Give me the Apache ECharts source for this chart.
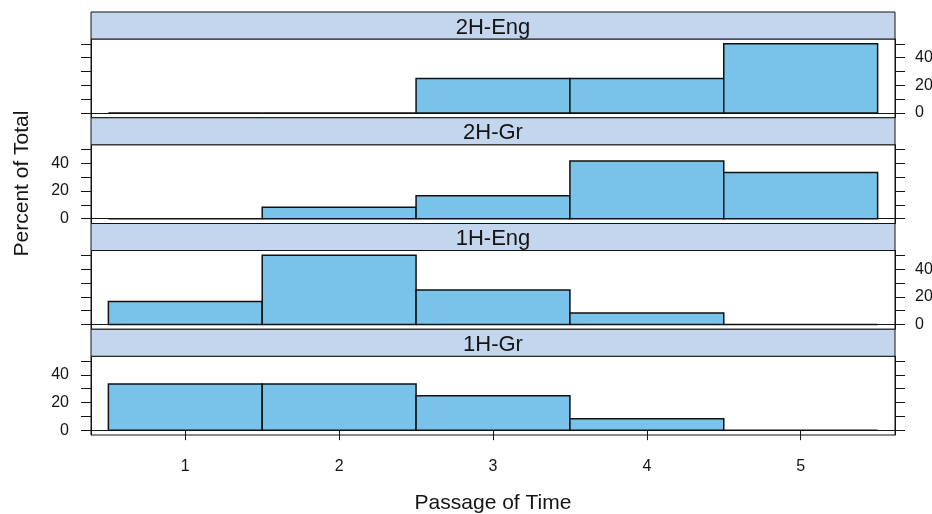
<!DOCTYPE html>
<html>
<head>
<meta charset="utf-8">
<script src="https://cdn.jsdelivr.net/npm/echarts@6/dist/echarts.min.js"></script>
<style>
html,body{margin:0;padding:0;background:#fff;}
#chart{width:932px;height:514px;}
</style>
</head>
<body>
<div id="chart"></div>
<script>
// ---- data ----
const panelNames = ['2H-Eng', '2H-Gr', '1H-Eng', '1H-Gr']; // top to bottom
const binBreaks = [0.5, 1.5, 2.5, 3.5, 4.5, 5.5];
const pct2HEng = [0, 0, 25, 25, 50];
const pct2HGr = [0, 8.33, 16.67, 41.67, 33.33];
const pct1HEng = [16.67, 50, 25, 8.33, 0];
const pct1HGr = [33.33, 33.33, 25, 8.33, 0];
const xTickValues = [1, 2, 3, 4, 5];
const yTickValues = [0, 10, 20, 30, 40, 50];
const yLabelValues = [0, 20, 40];
const xTitle = 'Passage of Time';
const yTitle = 'Percent of Total';

const panelValues = [pct2HEng, pct2HGr, pct1HEng, pct1HGr];

// ---- layout ----
const plotLeft = 91, plotRight = 895;
const topY = 12, bottomY = 435;
const stripH = 27;
const panelH = ((bottomY - topY) - 4 * stripH) / 4;
const FONT = 'Liberation Sans, Arial, sans-serif';
const INK = '#141414';
const BAR_FILL = '#79C3EB';
const STRIP_FILL = '#C3D6EE';

const grids = [], xAxes = [], yAxes = [], series = [], graphics = [];

panelNames.forEach((name, i) => {
  const stripTop = topY + i * (stripH + panelH);
  const gTop = stripTop + stripH;
  const isBottom = i === panelNames.length - 1;
  const labelsRight = (i % 2 === 0);
  grids.push({
    left: plotLeft, width: plotRight - plotLeft,
    top: gTop, height: panelH,
    outerBoundsMode: 'none', containLabel: false,
    show: true, borderColor: INK, borderWidth: 1, backgroundColor: '#fff'
  });
  xAxes.push({
    type: 'value', gridIndex: i, min: 0.387, max: 5.613,
    splitLine: {show: false},
    axisLine: {show: true, lineStyle: {color: INK, width: 1}},
    axisTick: {show: isBottom, length: 10, customValues: xTickValues, lineStyle: {color: INK}},
    axisLabel: {show: isBottom, customValues: xTickValues, margin: 24,
      fontSize: 16, color: INK, fontFamily: FONT},
    name: isBottom ? xTitle : '',
    nameLocation: 'middle', nameGap: 58,
    nameTextStyle: {fontSize: 21, color: INK, fontFamily: FONT}
  });
  ['left', 'right'].forEach(pos => {
    const showLab = (pos === 'right') === labelsRight;
    yAxes.push({
      type: 'value', gridIndex: i, position: pos, min: -3.5, max: 53.5,
      splitLine: {show: false},
      axisLine: {show: true, lineStyle: {color: INK, width: 1}},
      axisTick: {show: true, length: 10, customValues: yTickValues, lineStyle: {color: INK}},
      axisLabel: {show: showLab, customValues: yLabelValues,
        margin: pos === 'left' ? 22 : 20,
        fontSize: 16, color: INK, fontFamily: FONT}
    });
  });
  const data = panelValues[i].map((v, k) => [binBreaks[k], binBreaks[k + 1], v]);
  series.push({
    type: 'custom', xAxisIndex: i, yAxisIndex: 2 * i,
    encode: {x: [0, 1], y: 2},
    clip: false,
    data: data,
    renderItem: function (params, api) {
      const x0 = api.value(0), x1 = api.value(1), v = api.value(2);
      const p0 = api.coord([x0, v]);
      const p1 = api.coord([x1, 0]);
      return {
        type: 'rect',
        shape: {x: p0[0], y: p0[1], width: p1[0] - p0[0], height: p1[1] - p0[1]},
        style: {fill: v > 0 ? BAR_FILL : 'none', stroke: '#111', lineWidth: 1.5}
      };
    }
  });
  graphics.push({
    type: 'rect', z: 10,
    shape: {x: plotLeft, y: stripTop, width: plotRight - plotLeft, height: stripH},
    style: {fill: STRIP_FILL, stroke: INK, lineWidth: 1}
  });
  graphics.push({
    type: 'text', z: 11,
    x: (plotLeft + plotRight) / 2, y: stripTop + stripH / 2 + 2,
    style: {text: name, fill: INK, font: '22px ' + FONT, align: 'center', verticalAlign: 'middle'}
  });
});

graphics.push({
  type: 'text', z: 11,
  x: 22, y: (topY + bottomY) / 2 - 40, rotation: Math.PI / 2,
  style: {text: yTitle, fill: INK, font: '21px ' + FONT, align: 'center', verticalAlign: 'middle'}
});

const chart = echarts.init(document.getElementById('chart'), null, {renderer: 'canvas'});
chart.setOption({
  animation: false,
  backgroundColor: '#fff',
  grid: grids,
  xAxis: xAxes,
  yAxis: yAxes,
  series: series,
  graphic: graphics
});
</script>
</body>
</html>
